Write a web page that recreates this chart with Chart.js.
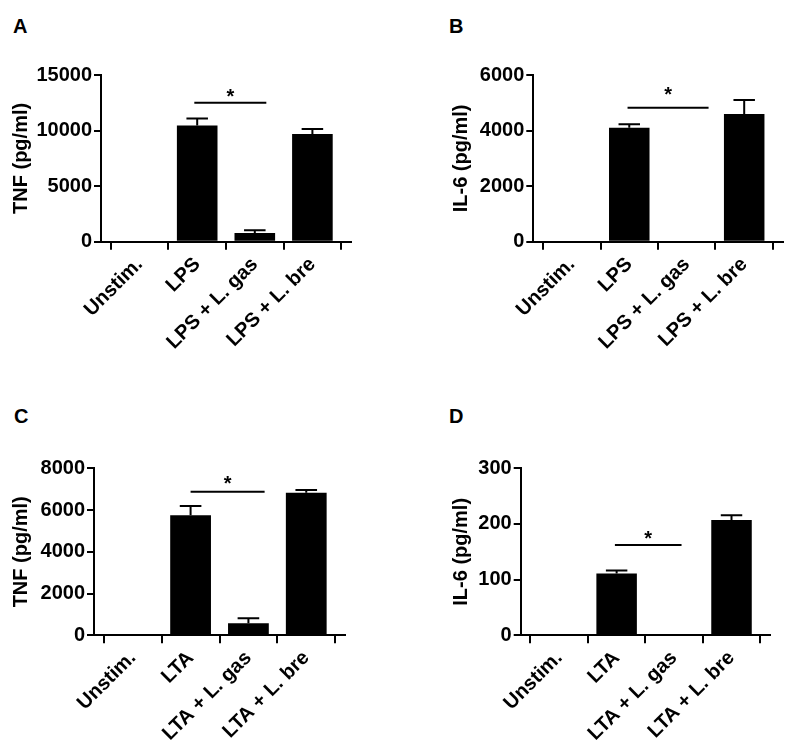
<!DOCTYPE html>
<html>
<head>
<meta charset="utf-8">
<script src="https://cdn.jsdelivr.net/npm/chart.js@4.4.1/dist/chart.umd.min.js"></script>
<style>
html,body{margin:0;padding:0;background:#fff;}
body{width:787px;height:745px;position:relative;overflow:hidden;font-family:"Liberation Sans",Arial,sans-serif;}
.panel{position:absolute;}
.panel canvas{display:block;}
.letter{position:absolute;font-weight:bold;font-size:20px;line-height:20px;color:#000;font-family:"Liberation Sans",Arial,sans-serif;}
</style>
</head>
<body>
<div class="letter" style="left:13px;top:16px">A</div>
<div class="letter" style="left:449px;top:16px">B</div>
<div class="letter" style="left:14px;top:406px">C</div>
<div class="letter" style="left:449px;top:406px">D</div>

<div class="panel" style="left:0px;top:0px"><canvas id="cA" width="393" height="372"></canvas></div>
<div class="panel" style="left:393px;top:0px"><canvas id="cB" width="394" height="372"></canvas></div>
<div class="panel" style="left:0px;top:372px"><canvas id="cC" width="393" height="373"></canvas></div>
<div class="panel" style="left:393px;top:372px"><canvas id="cD" width="394" height="373"></canvas></div>

<script>
// ---------- data ----------
const groupsLPS = ["Unstim.", "LPS", "LPS + L. gas", "LPS + L. bre"];
const groupsLTA = ["Unstim.", "LTA", "LTA + L. gas", "LTA + L. bre"];

const tnfLPS    = [0, 10450, 800, 9700];
const tnfLPSErr = [0, 630, 230, 450];
const il6LPS    = [0, 4100, 0, 4600];
const il6LPSErr = [0, 130, 0, 500];
const tnfLTA    = [0, 5750, 580, 6830];
const tnfLTAErr = [0, 440, 240, 130];
const il6LTA    = [0, 111, 0, 207];
const il6LTAErr = [0, 5.5, 0, 8.5];

const yTicksA = [0, 5000, 10000, 15000];
const yTicksB = [0, 2000, 4000, 6000];
const yTicksC = [0, 2000, 4000, 6000, 8000];
const yTicksD = [0, 100, 200, 300];

// significance brackets (category units for from/to, data units for y)
const sigA = {from: 0.95, to: 2.2,  y: 12500, star: 12520};
const sigB = {from: 0.97, to: 2.38, y: 4825,  star: 5080};
const sigC = {from: 1.0,  to: 2.28, y: 6880,  star: 6975};
const sigD = {from: 0.97, to: 2.13, y: 162,   star: 162.6};

const FONT = '"Liberation Sans", Arial, Helvetica, sans-serif';
Chart.defaults.color = '#000';
Chart.defaults.font.family = FONT;

function makePanel(id, cfg) {
  const canvas = document.getElementById(id);
  const W = canvas.width, H = canvas.height;
  const L = cfg.area.l - cfg.box.x, T = cfg.area.t - cfg.box.y;
  const R = cfg.area.r - cfg.box.x, B = cfg.area.b - cfg.box.y;
  const yTicks = cfg.yTicks;

  const annot = {
    id: 'annot_' + id,
    afterDatasetsDraw(chart) {
      const ctx = chart.ctx, xs = chart.scales.x, ys = chart.scales.y;
      const meta = chart.getDatasetMeta(0);
      ctx.save();
      ctx.strokeStyle = '#000';
      ctx.lineWidth = 2;
      cfg.values.forEach((v, i) => {
        const e = cfg.errors[i];
        if (!e) return;
        const x = xs.getPixelForValue(i);
        const y0 = ys.getPixelForValue(v);
        const y1 = ys.getPixelForValue(v + e);
        const cw = meta.data[i].width * 0.53;
        ctx.beginPath();
        ctx.moveTo(x, y0); ctx.lineTo(x, y1);
        ctx.moveTo(x - cw / 2, y1); ctx.lineTo(x + cw / 2, y1);
        ctx.stroke();
      });
      const s = cfg.sig;
      const sy = ys.getPixelForValue(s.y);
      const sx0 = xs.getPixelForValue(s.from), sx1 = xs.getPixelForValue(s.to);
      ctx.beginPath(); ctx.moveTo(sx0, sy); ctx.lineTo(sx1, sy); ctx.stroke();
      ctx.fillStyle = '#000';
      ctx.font = 'bold 20px ' + FONT;
      ctx.textAlign = 'center';
      ctx.textBaseline = 'alphabetic';
      ctx.fillText('*', (sx0 + sx1) / 2, ys.getPixelForValue(s.star));
      ctx.restore();
    }
  };

  return new Chart(canvas, {
    type: 'bar',
    data: {
      datasets: [{
        data: cfg.values.map((v, i) => ({x: i, y: v})),
        backgroundColor: '#000',
        borderWidth: 0,
        barPercentage: 0.705,
        categoryPercentage: 1
      }]
    },
    options: {
      responsive: false,
      animation: false,
      devicePixelRatio: 1,
      layout: {padding: {left: 0, top: T, right: W - R, bottom: 0}},
      plugins: {legend: {display: false}, tooltip: {enabled: false}},
      scales: {
        x: {
          type: 'linear',
          min: -0.67, max: 3.67,
          offset: false,
          afterBuildTicks: s => { s.ticks = cfg.labels.map((_, i) => ({value: i})); },
          afterFit: s => { s.height = H - B; },
          ticks: {
            autoSkip: false, minRotation: 45, maxRotation: 45, padding: 3,
            color: '#000', font: {size: 20, weight: 'bold', family: FONT},
            callback: v => cfg.labels[Math.round(v)]
          },
          grid: {drawOnChartArea: false, drawTicks: true, tickLength: 8, tickWidth: 2, tickColor: '#000', lineWidth: 2, color: '#000'},
          border: {display: true, color: '#000', width: 2}
        },
        y: {
          min: yTicks[0], max: yTicks[yTicks.length - 1],
          afterBuildTicks: s => { s.ticks = yTicks.map(v => ({value: v})); },
          afterFit: s => { s.width = L; },
          ticks: {padding: 2, color: '#000', font: {size: 20, weight: 'bold', family: FONT}, callback: v => String(v)},
          grid: {drawOnChartArea: false, drawTicks: true, tickLength: 7, tickWidth: 2, tickColor: '#000', lineWidth: 2, color: '#000'},
          border: {display: true, color: '#000', width: 2},
          title: {display: true, text: cfg.yTitle, color: '#000', font: {size: 20, weight: 'bold', family: FONT}, padding: {top: cfg.titleX - 12, bottom: 0}}
        }
      }
    },
    plugins: [annot]
  });
}

makePanel('cA', {box: {x: 0, y: 0}, area: {l: 101, t: 75, r: 351, b: 241.8},
  labels: groupsLPS, values: tnfLPS, errors: tnfLPSErr, yTicks: yTicksA, sig: sigA, yTitle: 'TNF (pg/ml)', titleX: 21.7});
makePanel('cB', {box: {x: 393, y: 0}, area: {l: 533.3, t: 75, r: 782.7, b: 241.8},
  labels: groupsLPS, values: il6LPS, errors: il6LPSErr, yTicks: yTicksB, sig: sigB, yTitle: 'IL-6 (pg/ml)', titleX: 68});
makePanel('cC', {box: {x: 0, y: 372}, area: {l: 94, t: 468.3, r: 345, b: 635.3},
  labels: groupsLTA, values: tnfLTA, errors: tnfLTAErr, yTicks: yTicksC, sig: sigC, yTitle: 'TNF (pg/ml)', titleX: 21.7});
makePanel('cD', {box: {x: 393, y: 372}, area: {l: 520.7, t: 468.3, r: 770, b: 635.3},
  labels: groupsLTA, values: il6LTA, errors: il6LTAErr, yTicks: yTicksD, sig: sigD, yTitle: 'IL-6 (pg/ml)', titleX: 68});
</script>
</body>
</html>
